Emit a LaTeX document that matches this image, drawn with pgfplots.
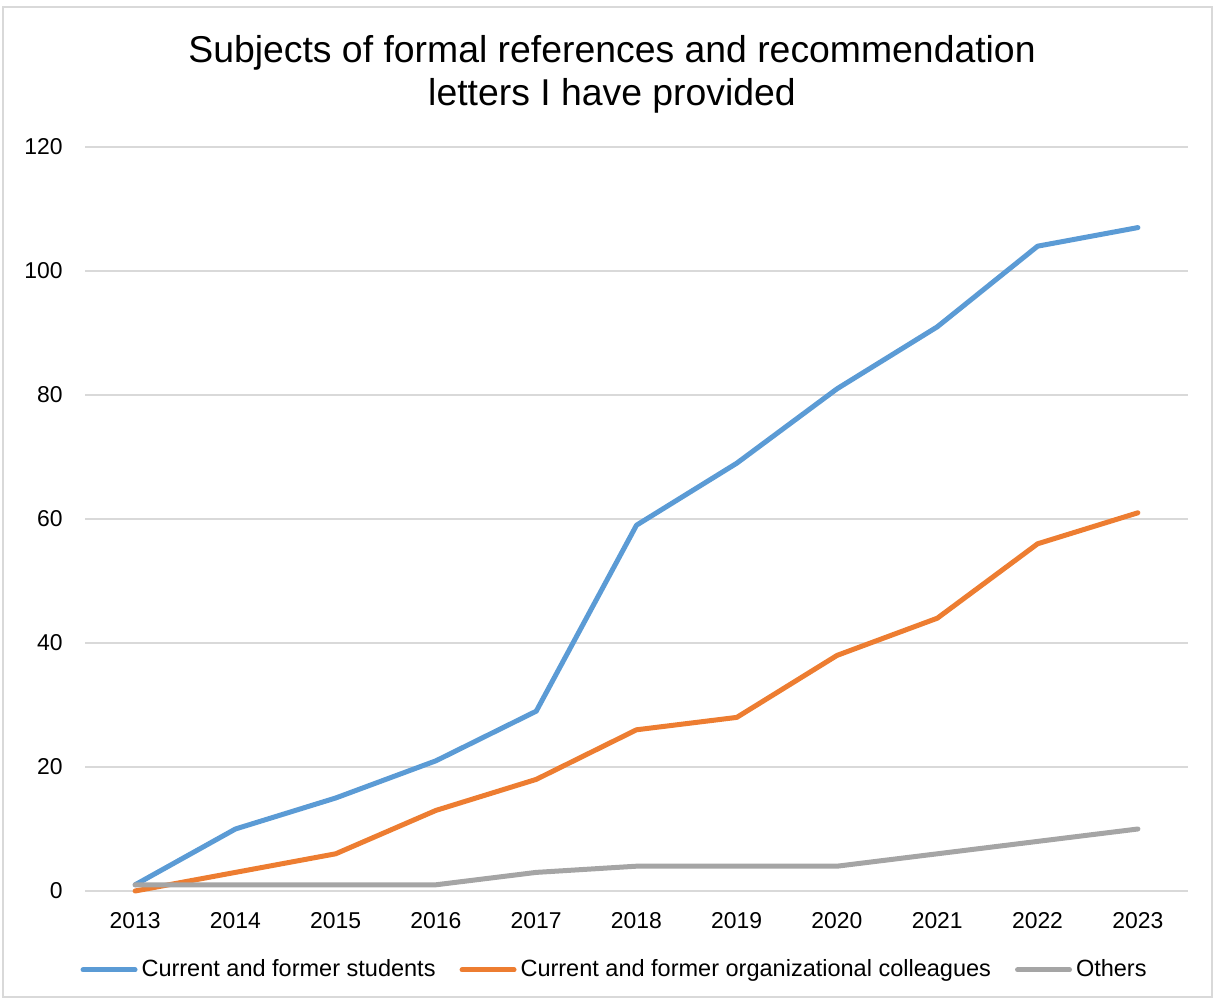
\documentclass[border=0pt]{standalone}
\usepackage{pgfplots}
\pgfplotsset{compat=1.18}
\usepackage{fontspec}
\setmainfont{Liberation Sans}
\definecolor{cblue}{HTML}{5B9BD5}
\definecolor{corange}{HTML}{ED7D31}
\definecolor{cgray}{HTML}{A5A5A5}
\definecolor{cgrid}{HTML}{D9D9D9}
\begin{document}
\begin{tikzpicture}[x=1bp,y=1bp]
\path[use as bounding box] (0,0) rectangle (607.5,500);
\draw[cgrid, line width=0.75bp] (1.5,1.5) rectangle (606,496.5);
\node[align=center, font=\fontsize{18.75}{21.5}\selectfont] at (306,462.75) {Subjects of formal references and recommendation\\letters I have provided};
\begin{axis}[
  at={(42.5bp,54.5bp)}, anchor=south west,
  scale only axis, width=551.5bp, height=372bp,
  xmin=2012.5, xmax=2023.5, ymin=0, ymax=120,
  xtick={2013,2014,...,2023}, ytick={0,20,...,120},
  axis line style={draw=none},
  major tick length=0pt,
  ymajorgrids, grid style={cgrid, line width=1bp},
  /pgf/number format/assume math mode=true,
  xticklabel style={/pgf/number format/1000 sep={}},
  tick label style={font=\fontsize{11.5}{13}\selectfont},
  yticklabel style={inner sep=0pt, anchor=east, xshift=-11bp},
  xticklabel style={inner sep=0pt, anchor=north, yshift=-10.5bp},
  clip=false,
  legend columns=3,
  legend style={draw=none, fill=none, at={(0.481,-0.106)}, anchor=center,
    font=\fontsize{11.8}{13}\selectfont, /tikz/every even column/.append style={column sep=10bp},
    inner sep=0pt},
  legend cell align=left,
  legend image code/.code={\draw[#1, line width=2.5bp, line cap=round] (0bp,0bp) -- (26bp,0bp);},
  every axis plot/.append style={line width=2.5bp, line cap=round, line join=round, mark=none},
]
\addplot[cblue] coordinates {(2013,1) (2014,10) (2015,15) (2016,21) (2017,29) (2018,59) (2019,69) (2020,81) (2021,91) (2022,104) (2023,107)};
\addlegendentry{Current and former students}
\addplot[corange] coordinates {(2013,0) (2014,3) (2015,6) (2016,13) (2017,18) (2018,26) (2019,28) (2020,38) (2021,44) (2022,56) (2023,61)};
\addlegendentry{Current and former organizational colleagues}
\addplot[cgray] coordinates {(2013,1) (2014,1) (2015,1) (2016,1) (2017,3) (2018,4) (2019,4) (2020,4) (2021,6) (2022,8) (2023,10)};
\addlegendentry{Others}
\end{axis}
\end{tikzpicture}
\end{document}
